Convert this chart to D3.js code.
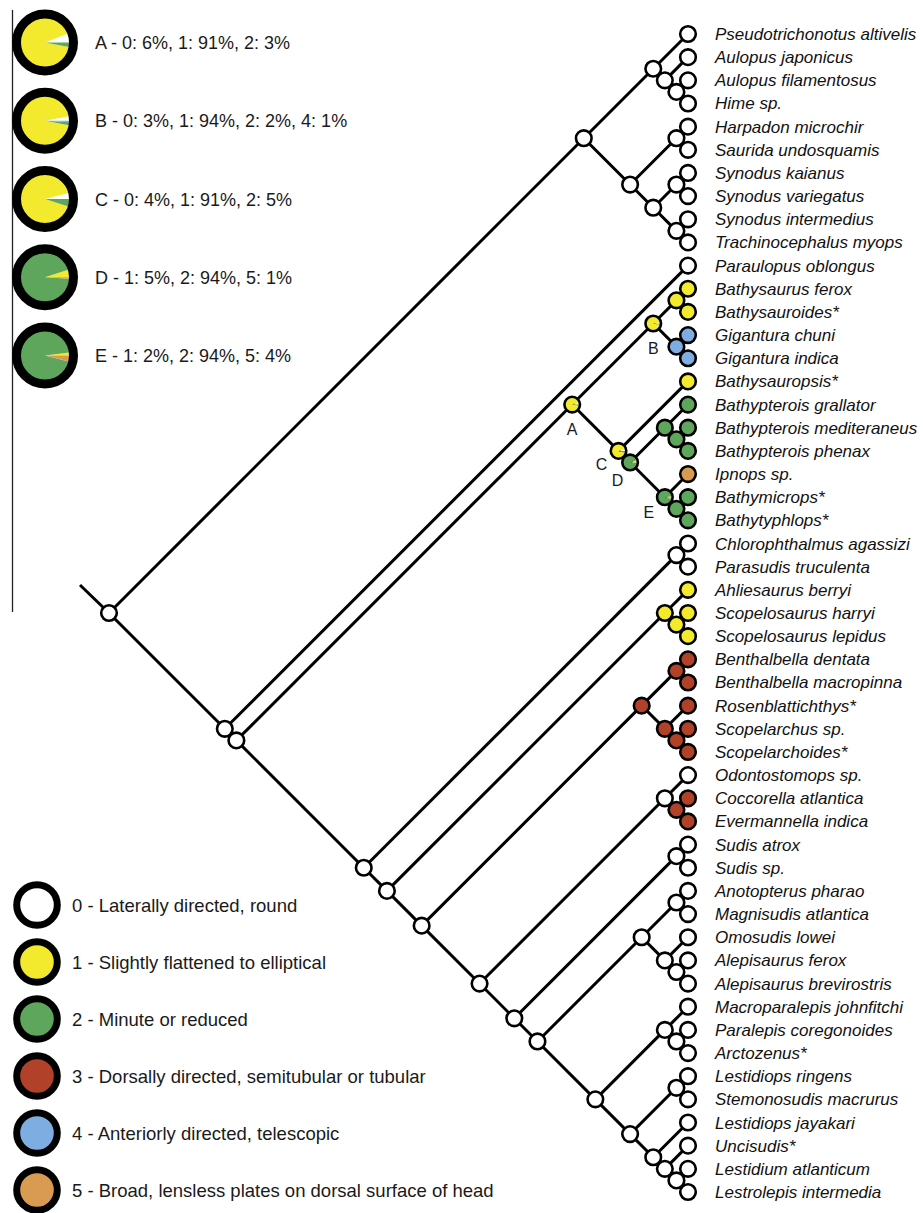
<!DOCTYPE html>
<html><head><meta charset="utf-8">
<script src="https://cdn.jsdelivr.net/npm/d3@7"></script>
<style>body{margin:0;background:#fff}svg{display:block}</style>
</head><body>
<svg id="chart" width="923" height="1213"></svg>
<script>
// ---------------- DATA ----------------
const tipNames = [
  "Pseudotrichonotus altivelis","Aulopus japonicus","Aulopus filamentosus","Hime sp.",
  "Harpadon microchir","Saurida undosquamis","Synodus kaianus","Synodus variegatus",
  "Synodus intermedius","Trachinocephalus myops","Paraulopus oblongus","Bathysaurus ferox",
  "Bathysauroides*","Gigantura chuni","Gigantura indica","Bathysauropsis*",
  "Bathypterois grallator","Bathypterois mediteraneus","Bathypterois phenax","Ipnops sp.",
  "Bathymicrops*","Bathytyphlops*","Chlorophthalmus agassizi","Parasudis truculenta",
  "Ahliesaurus berryi","Scopelosaurus harryi","Scopelosaurus lepidus","Benthalbella dentata",
  "Benthalbella macropinna","Rosenblattichthys*","Scopelarchus sp.","Scopelarchoides*",
  "Odontostomops sp.","Coccorella atlantica","Evermannella indica","Sudis atrox",
  "Sudis sp.","Anotopterus pharao","Magnisudis atlantica","Omosudis lowei",
  "Alepisaurus ferox","Alepisaurus brevirostris","Macroparalepis johnfitchi","Paralepis coregonoides",
  "Arctozenus*","Lestidiops ringens","Stemonosudis macrurus","Lestidiops jayakari",
  "Uncisudis*","Lestidium atlanticum","Lestrolepis intermedia"
];
// character state of each tip (same order as tipNames)
const tipStates = [
  0,0,0,0,0,0,0,0,0,0,
  0,1,1,4,4,1,2,2,2,5,2,2,
  0,0,1,1,1,3,3,3,3,3,
  0,3,3,
  0,0,0,0,0,0,0,0,0,0,0,0,0,0,0,0
];
// topology (tip indices); internal labels = reconstructed state, letters = pie nodes
const topology =
 "(((0,(1,(2,3)0)0)0,((4,5)0,((6,7)0,(8,9)0)0)0)0," +
 "(10,((((11,12)1,(13,14)4)B,(15,((16,(17,18)2)2,(19,(20,21)2)E)D)C)A," +
 "((22,23)0,((24,(25,26)1)1,(((27,28)3,(29,(30,31)3)3)3," +
 "((32,(33,34)3)0,((35,36)0,(((37,38)0,(39,(40,41)0)0)0," +
 "((42,(43,44)0)0,((45,46)0,(47,(48,(49,50)0)0)0)0)0)0)0)0)0)0)0)0)0)0";

const stateColors = ["#ffffff","#f3ea2d","#5ea65c","#b2412a","#7eaee1","#d99b52"];
const stateLabels = [
  "0 - Laterally directed, round",
  "1 - Slightly flattened to elliptical",
  "2 - Minute or reduced",
  "3 - Dorsally directed, semitubular or tubular",
  "4 - Anteriorly directed, telescopic",
  "5 - Broad, lensless plates on dorsal surface of head"
];
const pieNodes = ["A","B","C","D","E"];
const pieStates = [[0,1,2],[0,1,2,4],[0,1,2],[1,2,5],[1,2,5]];
const piePercents = [[6,91,3],[3,94,2,1],[4,91,5],[5,94,1],[2,94,4]];

// ---------------- LAYOUT ----------------
const svg = d3.select("#chart");
const tipX = 688, nodeR = 7.8;
const yTip = d3.scaleLinear().domain([0, tipNames.length - 1]).range([34, 1192]);

function parseNewick(s) {
  let i = 0;
  function node() {
    if (s[i] === "(") {
      i++;
      const children = [node()];
      while (s[i] === ",") { i++; children.push(node()); }
      i++; // ')'
      let label = "";
      while (i < s.length && /[0-9A-Za-z]/.test(s[i])) label += s[i++];
      return { children, label };
    }
    let label = "";
    while (i < s.length && /[0-9]/.test(s[i])) label += s[i++];
    return { tip: +label };
  }
  return node();
}

const root = d3.hierarchy(parseNewick(topology), d => d.children);
// slanted cladogram: every branch at 45 degrees
root.eachAfter(n => {
  if (!n.children) { n.x = tipX; n.y = yTip(n.data.tip); }
  else {
    const [a, b] = n.children;
    const t = ((a.x - b.x) + (b.y - a.y)) / 2;
    n.x = a.x - t; n.y = a.y + t;
  }
});

const pieGen = d3.pie().sort(null).value(d => d)
  .startAngle(Math.PI / 2).endAngle(Math.PI / 2 - 2 * Math.PI);

// left border line
svg.append("line").attr("x1", 12.5).attr("x2", 12.5).attr("y1", 10).attr("y2", 612)
  .attr("stroke", "#222").attr("stroke-width", 1.3);

// branches
const gLinks = svg.append("g").attr("stroke", "#000").attr("stroke-width", 3).attr("fill", "none");
gLinks.append("line").attr("x1", root.x - 29).attr("y1", root.y - 28).attr("x2", root.x).attr("y2", root.y);
gLinks.selectAll("line.br").data(root.links()).join("line").attr("class", "br")
  .attr("x1", d => d.source.x).attr("y1", d => d.source.y)
  .attr("x2", d => d.target.x).attr("y2", d => d.target.y);

// nodes
function drawPie(g, cx, cy, r, states, perc, sw) {
  const gg = g.append("g").attr("transform", `translate(${cx},${cy})`);
  const arc = d3.arc().innerRadius(0).outerRadius(r);
  gg.selectAll("path").data(pieGen(perc)).join("path")
    .attr("d", arc).attr("fill", (d, i) => stateColors[states[i]]);
  gg.append("circle").attr("r", r).attr("fill", "none").attr("stroke", "#000").attr("stroke-width", sw);
}
const gNodes = svg.append("g");
root.descendants().forEach(n => {
  const lbl = n.children ? n.data.label : null;
  const pi = lbl ? pieNodes.indexOf(lbl) : -1;
  if (pi >= 0) {
    drawPie(gNodes, n.x, n.y, nodeR, pieStates[pi], piePercents[pi], 2.6);
  } else {
    const st = n.children ? +lbl : tipStates[n.data.tip];
    gNodes.append("circle").attr("cx", n.x).attr("cy", n.y).attr("r", nodeR)
      .attr("fill", stateColors[st]).attr("stroke", "#000").attr("stroke-width", 2.6);
  }
});

// node letter labels
const letterOffset = { A: [0, 30], B: [0, 30], C: [-17, 19], D: [-12.5, 23.5], E: [-16, 21] };
root.descendants().filter(n => n.children && pieNodes.includes(n.data.label)).forEach(n => {
  const o = letterOffset[n.data.label];
  svg.append("text").attr("x", n.x + o[0]).attr("y", n.y + o[1])
    .attr("text-anchor", "middle").attr("font-family", "Liberation Sans, Arial, sans-serif")
    .attr("font-size", 16).attr("fill", "#1a1a1a").text(n.data.label);
});

// tip labels
svg.append("g").selectAll("text").data(root.leaves()).join("text")
  .attr("x", tipX + 27).attr("y", d => d.y + 6)
  .attr("font-family", "Liberation Sans, Arial, sans-serif").attr("font-style", "italic")
  .attr("font-size", 17).attr("fill", "#111")
  .text(d => tipNames[d.data.tip]);

// pie legend (top left)
pieNodes.forEach((name, i) => {
  const cy = 42.5 + i * 78.25;
  drawPie(svg, 45, cy, 28.5, pieStates[i], piePercents[i], 9);
  svg.append("text").attr("x", 95).attr("y", cy + 6.5)
    .attr("font-family", "Liberation Sans, Arial, sans-serif").attr("font-size", 18)
    .attr("fill", "#1a1a1a")
    .text(name + " - " + pieStates[i].map((s, j) => s + ": " + piePercents[i][j] + "%").join(", "));
});

// state legend (bottom left)
stateLabels.forEach((lab, i) => {
  const cy = 905 + i * 57;
  svg.append("circle").attr("cx", 37).attr("cy", cy).attr("r", 20.3)
    .attr("fill", stateColors[i]).attr("stroke", "#000").attr("stroke-width", 7);
  svg.append("text").attr("x", 72).attr("y", cy + 7)
    .attr("font-family", "Liberation Sans, Arial, sans-serif").attr("font-size", 18.5)
    .attr("fill", "#1a1a1a").text(lab);
});
</script>
</body></html>
